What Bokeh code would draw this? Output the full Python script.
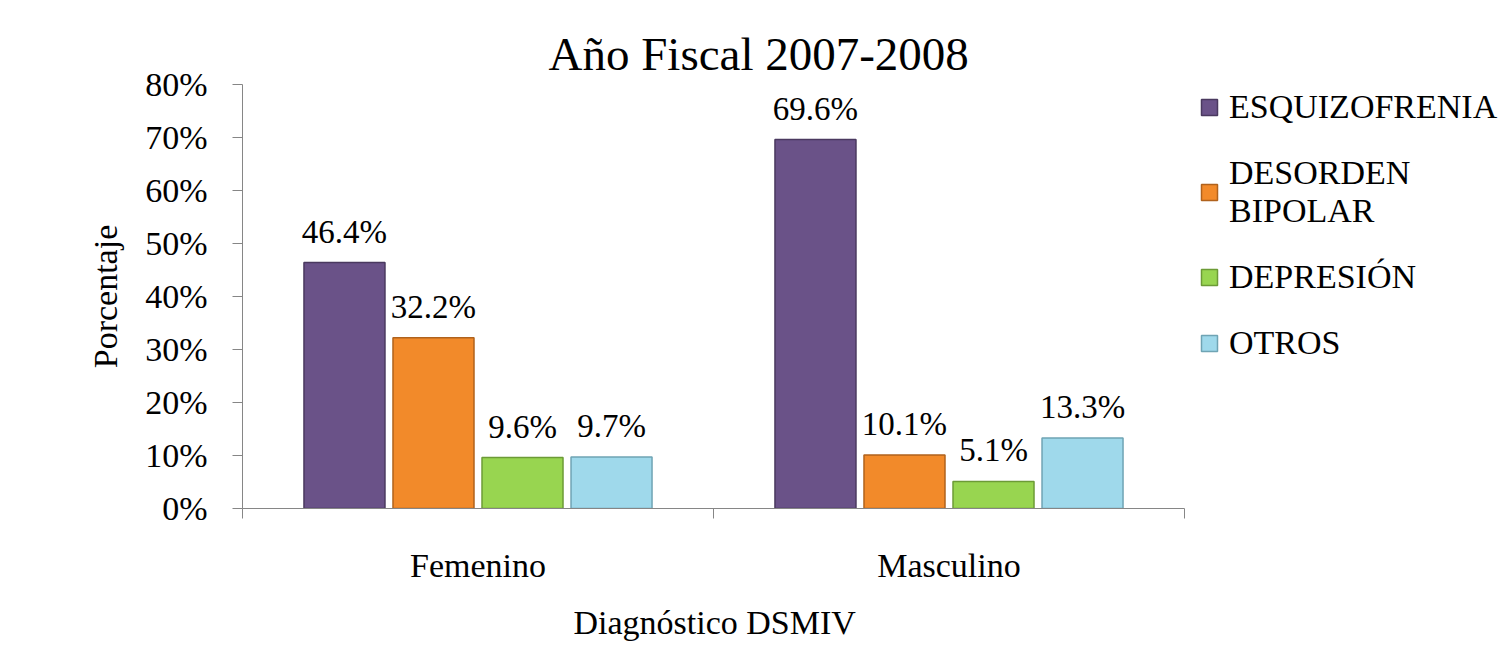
from bokeh.plotting import figure
from bokeh.models import (ColumnDataSource, FixedTicker, PrintfTickFormatter, Legend, LegendItem,
                          LabelSet, Title)
from bokeh.embed import file_html
from bokeh.resources import INLINE

# ---- data ----
genders = ["Femenino", "Masculino"]
diagnoses = ["ESQUIZOFRENIA", "DESORDEN\nBIPOLAR", "DEPRESIÓN", "OTROS"]
femenino = [46.4, 32.2, 9.6, 9.7]
masculino = [69.6, 10.1, 5.1, 13.3]
y_ticks = [0, 10, 20, 30, 40, 50, 60, 70, 80]

# ---- style ----
fills = ["#6A5288", "#F28A2A", "#98D550", "#9FD9EB"]
lines = ["#4A395F", "#B0621C", "#6C9B36", "#6FA4B4"]
offsets = [-0.2835, -0.0945, 0.0945, 0.2835]
bar_w = 0.172
SERIF = "Liberation Serif"
# extra room to the right of the category axis (for the legend), in category units
x_extra = 322 / 471

p = figure(width=1506, height=656, x_range=(0, len(genders) + x_extra), y_range=(0, 80),
           output_backend="svg", toolbar_location=None,
           min_border_left=242, min_border_right=0, min_border_top=84, min_border_bottom=148)
p.outline_line_color = None
p.xgrid.visible = False
p.ygrid.visible = False

p.title.text = "Año Fiscal 2007-2008"
p.title.text_font = SERIF
p.title.text_font_size = "47px"
p.title.text_font_style = "normal"
p.title.text_color = "#000000"
p.title.align = "left"
p.title.offset = 306

series = [[femenino[i], masculino[i]] for i in range(len(diagnoses))]
items = []
for j, name in enumerate(diagnoses):
    xs = [g + 0.5 + offsets[j] for g in range(len(genders))]
    src = ColumnDataSource(dict(x=xs, top=series[j],
                                lbl=[f"{v:.1f}%" for v in series[j]]))
    r = p.vbar(x="x", top="top", width=bar_w, bottom=0, source=src,
               fill_color=fills[j], line_color=lines[j], line_width=1.5)
    items.append(LegendItem(label=name, renderers=[r]))
    p.add_layout(LabelSet(x="x", y="top", text="lbl", source=src,
                          text_align="center", text_baseline="middle",
                          y_offset=31, text_font="Open Sans",
                          text_font_size="33px", text_color="#000000"))

# axes
xa = p.xaxis[0]
xa.bounds = (0, len(genders))
xa.ticker = FixedTicker(ticks=[0.5, 1.5], minor_ticks=[0, 1, 2])
xa.major_label_overrides = {0.5: "Femenino", 1.5: "Masculino"}
xa.major_tick_out = 0
xa.major_tick_in = 0
xa.minor_tick_out = 10
xa.minor_tick_in = 0
xa.minor_tick_line_color = "#868686"
xa.axis_line_color = "#868686"
xa.major_label_standoff = 28
xa.major_label_text_font = SERIF
xa.major_label_text_font_size = "34px"
xa.major_label_text_color = "#000000"

# x axis title, centred under the category axis (not under the legend area)
p.add_layout(Title(text="Diagnóstico DSMIV", align="left", offset=331, standoff=31,
                   text_font=SERIF, text_font_size="34px", text_font_style="normal",
                   text_color="#000000"), "below")

ya = p.yaxis[0]
ya.ticker = FixedTicker(ticks=y_ticks, minor_ticks=[])
ya.formatter = PrintfTickFormatter(format="%d%%")
ya.major_tick_out = 10
ya.major_tick_in = 0
ya.major_tick_line_color = "#868686"
ya.axis_line_color = "#868686"
ya.major_label_standoff = 25
ya.major_label_text_font = SERIF
ya.major_label_text_font_size = "34px"
ya.major_label_text_color = "#000000"
ya.axis_label = "Porcentaje"
ya.axis_label_text_font = SERIF
ya.axis_label_text_font_size = "34px"
ya.axis_label_text_font_style = "normal"
ya.axis_label_text_color = "#000000"
ya.axis_label_standoff = 18

legend = Legend(items=items, location=(957, 146), orientation="vertical",
                label_text_font=SERIF, label_text_font_size="34px",
                label_text_color="#000000", glyph_width=20, glyph_height=20,
                label_standoff=10, spacing=28, padding=0, margin=0,
                border_line_color=None, background_fill_alpha=0)
p.add_layout(legend, "center")

open("out.html", "w").write(file_html(p, INLINE))
